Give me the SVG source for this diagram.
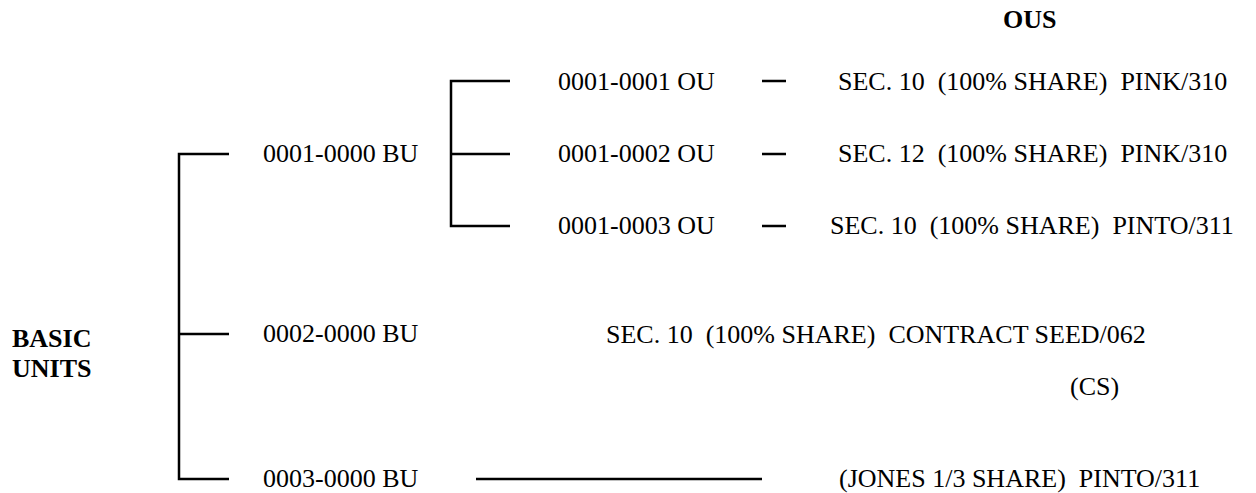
<svg xmlns="http://www.w3.org/2000/svg" width="1256" height="493" viewBox="0 0 1256 493">
<style>
.t text{font-size:26px;fill:#000;white-space:pre}
.b{font-weight:bold}
.ln{stroke:#000;stroke-width:2.5;fill:none}
</style>
<rect width="1256" height="493" fill="#fff"/>
<g id="connectors">
<path class="ln" d="M229,154 H179 V479 H229 M179,334 H229"/>
<path class="ln" d="M510,81 H451 V226 H510 M451,154 H510"/>
<path class="ln" d="M762,81 H786 M762,154 H786 M762,226 H786"/>
<path class="ln" d="M476,479 H762"/>
</g>
<g class="t" font-family="Liberation Serif, Times New Roman, serif">
<g id="title"><text class="b" x="1003" y="28">OUS</text></g>
<g id="root"><text class="b" x="12" y="347">BASIC</text><text class="b" x="12" y="377">UNITS</text></g>
<g id="bu1"><text x="263" y="162">0001-0000 BU</text></g>
<g id="ou1"><text x="558" y="90">0001-0001 OU</text></g>
<g id="ou2"><text x="558" y="162">0001-0002 OU</text></g>
<g id="ou3"><text x="558" y="234">0001-0003 OU</text></g>
<g id="d1"><text x="838" y="90">SEC. 10  (100% SHARE)  PINK/310</text></g>
<g id="d2"><text x="838" y="162">SEC. 12  (100% SHARE)  PINK/310</text></g>
<g id="d3"><text x="830" y="234">SEC. 10  (100% SHARE)  PINTO/311</text></g>
<g id="bu2"><text x="263" y="342">0002-0000 BU</text></g>
<g id="d4"><text x="606" y="343">SEC. 10  (100% SHARE)  CONTRACT SEED/062</text><text x="1070" y="395">(CS)</text></g>
<g id="bu3"><text x="263" y="487">0003-0000 BU</text></g>
<g id="d5"><text x="839" y="487">(JONES 1/3 SHARE)  PINTO/311</text></g>
</g>
</svg>
